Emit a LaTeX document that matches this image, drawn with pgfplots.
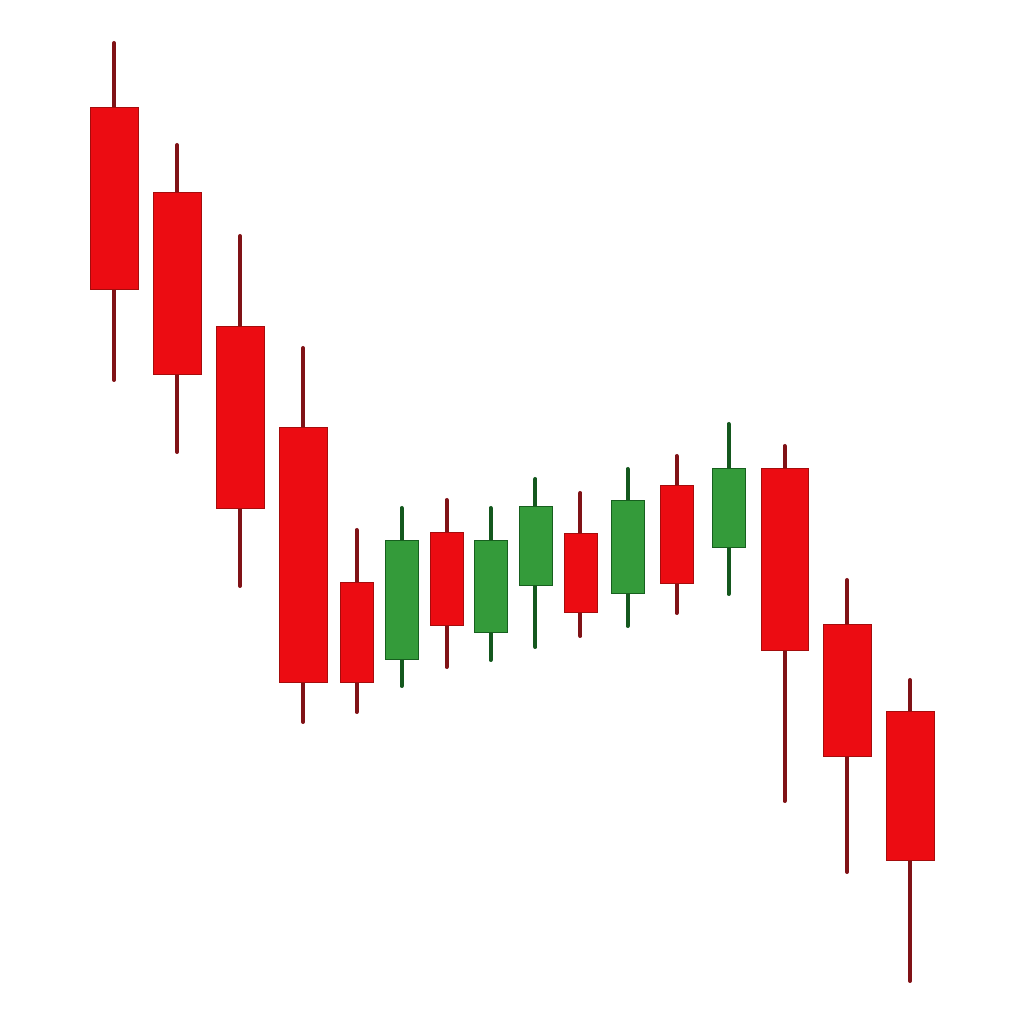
\documentclass[border=0pt]{standalone}
\usepackage{pgfplots}
\pgfplotsset{compat=1.18}
\definecolor{bodyred}{RGB}{236,12,18}
\definecolor{edgered}{RGB}{165,12,12}
\definecolor{wickred}{RGB}{128,18,22}
\definecolor{bodygreen}{RGB}{52,155,58}
\definecolor{edgegreen}{RGB}{22,95,30}
\definecolor{wickgreen}{RGB}{20,88,30}
% candle: x-left, x-right, body top, body bottom, wick top, wick bottom (image px, y downwards)
\newcommand{\candle}[7]{%
  \addplot[draw=wick#7, line width=4pt, line cap=round] coordinates {({(#1+#2)/2},{1024-#5}) ({(#1+#2)/2},{1024-#6})};
  \addplot[fill=body#7, draw=edge#7, line width=1pt] coordinates {(#1,{1024-#3}) (#2,{1024-#3}) (#2,{1024-#4}) (#1,{1024-#4})} -- cycle;
}
\begin{document}
\begin{tikzpicture}
\begin{axis}[
  width=1024pt, height=1024pt, scale only axis,
  xmin=0, xmax=1024, ymin=0, ymax=1024,
  hide axis, clip=false,
]
\addplot[draw=none] coordinates {(0,0) (1024,1024)};
\candle{90}{138}{108}{290}{43}{380}{red}
\candle{153}{201}{193}{375}{145}{452}{red}
\candle{216}{264}{327}{509}{236}{586}{red}
\candle{279}{327}{428}{683}{348}{722}{red}
\candle{340}{373}{583}{683}{530}{712}{red}
\candle{385}{418}{541}{660}{508}{686}{green}
\candle{430}{463}{533}{626}{500}{667}{red}
\candle{474}{507}{541}{633}{508}{660}{green}
\candle{519}{552}{507}{586}{479}{647}{green}
\candle{564}{597}{534}{613}{493}{636}{red}
\candle{611}{644}{501}{594}{469}{626}{green}
\candle{660}{693}{486}{584}{456}{613}{red}
\candle{712}{745}{469}{548}{424}{594}{green}
\candle{761}{808}{469}{651}{446}{801}{red}
\candle{823}{871}{625}{757}{580}{872}{red}
\candle{886}{934}{712}{861}{680}{981}{red}
\end{axis}
\end{tikzpicture}
\end{document}
